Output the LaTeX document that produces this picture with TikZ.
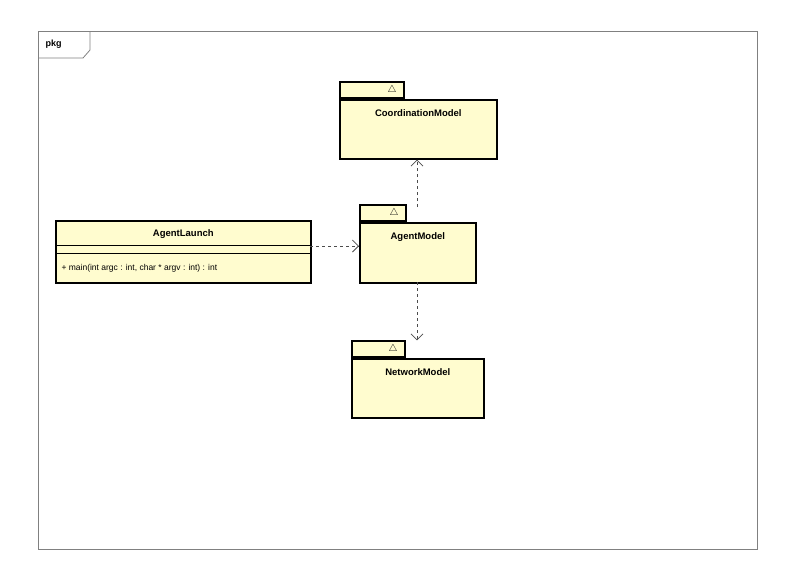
\documentclass[tikz,border=0pt]{standalone}
\usepackage{fontspec}
\setmainfont{Liberation Sans}
\usetikzlibrary{arrows.meta}

\begin{document}
\begin{tikzpicture}[x=1pt,y=-1pt,
   pkgbody/.style={draw, line width=1.6pt, fill=umlyellow, minimum width=#1, minimum height=59pt, inner sep=0pt, anchor=north west},
   pkgtab/.style={draw, line width=1.6pt, fill=umlyellow, minimum width=#1, minimum height=16pt, inner sep=0pt, anchor=south west},
   tri/.style={anchor=east, font=\fontsize{10}{10}\selectfont, inner sep=0pt},
   dep/.style={draw=black!70, dashed, line width=0.8pt, -{Straight Barb[length=6pt,width=12pt]}},
   every node/.style={font=\bfseries\fontsize{9.5}{11}\selectfont}]
   \definecolor{umlyellow}{HTML}{FFFCCF}
   \useasboundingbox (0,0) rectangle (792,576);
   % frame
   \draw[gray, line width=0.8pt] (38,31) rectangle (757,549);
   \draw[gray, line width=0.8pt] (38,58) -- (83,58) -- (90,50) -- (90,31);
   \node[anchor=west, font=\bfseries\fontsize{9}{10}\selectfont] (frm) at (42,44) {pkg};

   % packages
   \node[pkgtab=64pt] (coordtab) at (339,99) {};
   \node[tri] at ([xshift=-8pt]coordtab.east) {$\triangle$};
   \node[pkgbody=157pt] (coord) at (339,99) {};
   \node[anchor=north] at ([yshift=-7pt]coord.north) {CoordinationModel};

   \node[pkgtab=46pt] (agenttab) at (359,222) {};
   \node[tri] at ([xshift=-8pt]agenttab.east) {$\triangle$};
   \node[pkgbody=116pt, minimum height=60pt] (agent) at (359,222) {};
   \node[anchor=north] at ([yshift=-7pt]agent.north) {AgentModel};

   \node[pkgtab=53pt] (nettab) at (351,358) {};
   \node[tri] at ([xshift=-8pt]nettab.east) {$\triangle$};
   \node[pkgbody=132pt] (net) at (351,358) {};
   \node[anchor=north] at ([yshift=-7pt]net.north) {NetworkModel};

   % class
   \node[draw, line width=1.6pt, fill=umlyellow, minimum width=255pt, minimum height=62pt, anchor=north west] (launch) at (55,220) {};
   \node[anchor=north] (launchname) at ([yshift=-6pt]launch.north) {AgentLaunch};
   \draw[line width=0.8pt] (55,245) -- (310,245) (55,253) -- (310,253);
   \node[anchor=west, font=\fontsize{8.5}{10}\selectfont] (op) at (58,268) {+ main(int argc : int, char * argv : int) : int};

   % dependencies
   \coordinate (a1) at (310,246);
   \draw[dep] (a1) -- (a1 -| agent.west);
   \coordinate (a2) at (417,207);
   \draw[dep] (a2) -- (a2 |- coord.south);
   \coordinate (a3) at (417,282);
   \draw[dep] (a3) -- (a3 |- nettab.north);
\end{tikzpicture}
\end{document}
